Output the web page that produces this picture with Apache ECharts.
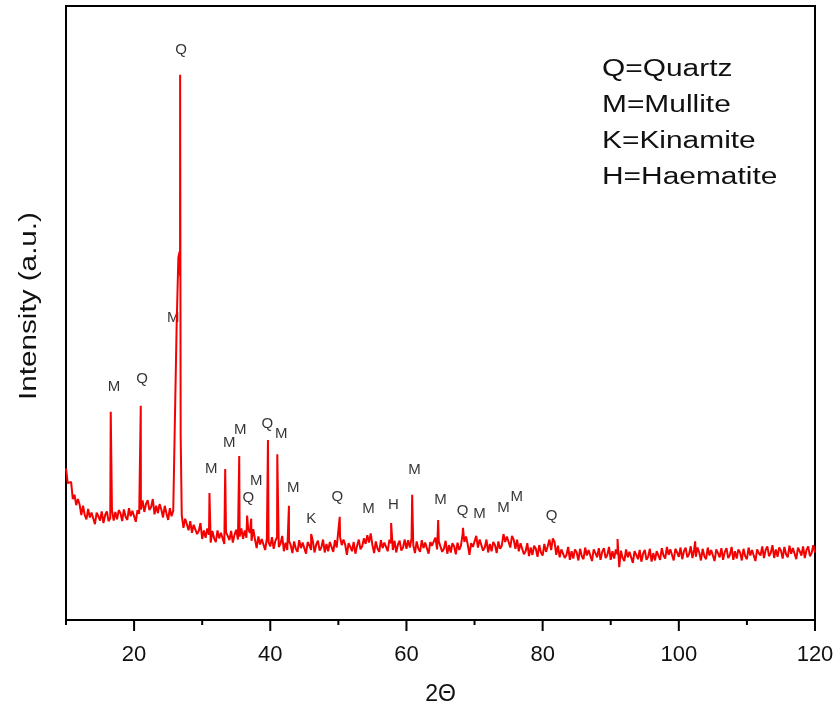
<!DOCTYPE html>
<html>
<head>
<meta charset="utf-8">
<script src="https://cdn.jsdelivr.net/npm/echarts@6/dist/echarts.min.js"></script>
<style>
  html, body { margin: 0; padding: 0; background: #fff; }
  #chart { width: 840px; height: 719px; }
</style>
</head>
<body>
<div id="chart"></div>
<script>
// XRD scan: intensity sampled every 0.25° of 2θ from 10° to 120° (a.u.)
const scanStart = 10;
const scanStep = 0.25;
const intensity = [
  247, 223, 220, 225,  197, 204, 187, 197,  188, 171, 186, 171,  164, 181, 167, 175,   // 10-13
  173, 156, 175, 169,  162, 177, 158, 171,  177, 161, 166, 179,  162, 176, 164, 179,   // 14-17
  174, 161, 180, 168,  163, 182, 169, 178,  177, 160, 179, 173,  180, 195, 176, 189,   // 18-21
  195, 179, 184, 197,  172, 186, 174, 189,  180, 167, 186, 174,  163, 182, 169, 178,   // 22-25
  330, 480, 590, 560,  171, 150, 165, 156,  146, 161, 142, 155,  156, 140, 145, 158,   // 26-29
  132, 146, 134, 149,  139, 126, 145, 133,  127, 146, 133, 142,  141, 124, 143, 137,   // 30-33
  130, 145, 126, 139,  147, 131, 136, 149,  132, 146, 134, 149,  142, 129, 148, 132,   // 34-37
  117, 136, 123, 132,  131, 114, 133, 127,  120, 135, 116, 129,  135, 119, 124, 137,   // 38-41
  112, 126, 114, 129,  122, 109, 128, 116,  111, 130, 117, 126,  125, 108, 127, 121,   // 42-45
  114, 129, 110, 123,  129, 113, 118, 131,  110, 124, 112, 127,  124, 111, 130, 118,   // 46-49
  116, 135, 122, 131,  123, 106, 125, 119,  112, 127, 108, 121,  131, 115, 120, 133,   // 50-53
  124, 138, 126, 141,  122, 109, 128, 116,  111, 130, 117, 126,  129, 112, 131, 125,   // 54-57
  114, 129, 110, 123,  129, 113, 118, 131,  116, 130, 118, 133,  122, 109, 128, 116,   // 58-61
  111, 130, 117, 126,  125, 108, 127, 121,  119, 134, 115, 128,  127, 111, 116, 129,   // 62-65
  108, 122, 110, 125,  120, 107, 126, 114,  121, 140, 127, 136,  123, 106, 125, 119,   // 66-69
  122, 137, 118, 131,  129, 113, 118, 131,  110, 124, 112, 127,  122, 109, 128, 116,   // 70-73
  121, 140, 127, 136,  135, 118, 137, 131,  116, 131, 112, 125,  123, 107, 112, 125,   // 74-77
  104, 118, 106, 121,  116, 103, 122, 110,  105, 124, 111, 120,  131, 114, 133, 127,   // 78-81
  106, 121, 102, 115,  117, 101, 106, 119,   98, 112, 100, 115,  110,  97, 116, 104,   // 82-85
   99, 118, 105, 114,  113,  96, 115, 109,  102, 117,  98, 111,  117, 101, 106, 119,   // 86-89
   98, 112, 100, 115,  107,  86, 113, 101,   96, 115, 102, 111,  110,  93, 112, 106,   // 90-93
   99, 114,  95, 108,  114,  98, 103, 116,   95, 109,  97, 112,  111,  98, 117, 105,   // 94-97
  100, 119, 106, 115,  114,  97, 116, 110,  103, 118,  99, 112,  118, 102, 107, 120,   // 98-101
  101, 115, 103, 118,  110,  97, 116, 104,   99, 118, 105, 114,  113,  96, 115, 109,   // 102-105
  102, 117,  98, 111,  117, 101, 106, 119,   98, 112, 100, 115,  110,  97, 116, 104,   // 106-109
   99, 118, 105, 114,  113,  96, 115, 109,  105, 120, 101, 114,  120, 104, 109, 122,   // 110-113
  101, 115, 103, 118,  113, 100, 119, 107,  102, 121, 108, 117,  116,  99, 118, 112,   // 114-117
  105, 120, 101, 114,  120, 104, 109, 122,  110                                         // 118-120
];

// Narrow reflections between the scan samples: position (2θ) and peak intensity
const peakAngle = [16.57, 20.98, 26.68, 26.76, 26.84, 31.07, 33.38, 35.44, 36.6, 37.2,
                   39.66, 41.03, 42.74, 46.0, 50.2, 57.75, 60.84, 64.66, 68.3, 91.0, 102.4];
const peakHeight = [339, 349, 600, 888, 300, 207, 246, 267, 170, 165,
                    293, 270, 186, 140, 168, 158, 204, 163, 150, 132, 128];

// Phase markers above the reflections
const phaseLetter = ['Q', 'M', 'M', 'Q', 'M', 'M', 'M', 'M', 'Q', 'Q', 'M', 'M',
                     'K', 'Q', 'M', 'H', 'M', 'M', 'Q', 'M', 'M', 'M', 'Q'];
const phaseAngle = [26.91, 25.74, 17.06, 21.18, 31.32, 33.97, 35.59, 37.94, 36.76, 39.56, 41.62, 43.38,
                    46.03, 49.85, 54.41, 58.09, 61.18, 65.0, 68.24, 70.74, 74.26, 76.18, 81.32];
const phaseLevel = [928, 492, 379, 393, 246, 288, 309, 226, 199, 319, 303, 215,
                    164, 200, 181, 187, 244, 195, 178, 173, 182, 200, 169];

const phaseKey = ['Q=Quartz', 'M=Mullite', 'K=Kinamite', 'H=Haematite'];

// 2θ axis: labelled ticks and the unlabelled ones between them
const xTicks = ['10', '20', '30', '40', '50', '60', '70', '80', '90', '100', '110', '120'];
const xMajorTicks = [20, 40, 60, 80, 100, 120];
const xMinorTicks = [10, 30, 50, 70, 90, 110];

const scanPoints = intensity.map((v, i) => [scanStart + i * scanStep, v]);
const peakPoints = peakAngle.map((a, i) => [a, peakHeight[i]]);
const pattern = scanPoints.concat(peakPoints).sort((a, b) => a[0] - b[0]);

const markers = phaseLetter.map((t, i) => ({ name: t, value: [phaseAngle[i], phaseLevel[i]] }));
const tickMarks = xMajorTicks.map(v => [v, 1]).concat(xMinorTicks.map(v => [v, 0]));

const FONT = '"Liberation Sans", Arial, sans-serif';
const everyOther = i => i % 2 === 1;
const axisStroke = { color: '#000', width: 2 };

const chart = echarts.init(document.getElementById('chart'), null, { renderer: 'canvas' });

const keyGraphics = phaseKey.map((t, i) => ({
  type: 'text',
  x: 602,
  y: 70 + i * 36,
  scaleX: 1.3,
  style: { text: t, font: '23px ' + FONT, fill: '#111', align: 'left', verticalAlign: 'middle' },
  silent: true
}));

chart.setOption({
  animation: false,
  backgroundColor: '#fff',
  grid: {
    left: 66, right: 25, top: 6, bottom: 99, containLabel: false,
    show: true, borderColor: '#000', borderWidth: 2, backgroundColor: 'transparent'
  },
  xAxis: [
    {
      type: 'value', min: 10, max: 120, position: 'bottom',
      axisLine: { show: true, onZero: false, lineStyle: axisStroke },
      axisTick: { show: false },
      axisLabel: { show: false },
      splitLine: { show: false },
      name: '2Θ', nameLocation: 'middle', nameGap: 63,
      nameTextStyle: { fontSize: 23, fontFamily: FONT, color: '#111' }
    },
    {
      // labels every 20°
      type: 'category', data: xTicks, boundaryGap: false, position: 'bottom',
      axisLine: { show: false, onZero: false },
      axisTick: { show: false },
      axisLabel: { show: true, interval: everyOther, margin: 24, fontSize: 22, fontFamily: FONT, color: '#111' },
      splitLine: { show: false }
    }
  ],
  yAxis: [
    {
      type: 'value', min: 0, max: 1000, position: 'left',
      axisLine: { show: true, onZero: false, lineStyle: axisStroke },
      axisTick: { show: false }, axisLabel: { show: false }, splitLine: { show: false }
    }
  ],
  series: [
    {
      type: 'line',
      data: pattern,
      xAxisIndex: 0, yAxisIndex: 0,
      showSymbol: false,
      sampling: null,
      lineStyle: { color: '#f50000', width: 2 },
      silent: true
    },
    {
      type: 'scatter',
      data: markers,
      xAxisIndex: 0, yAxisIndex: 0,
      symbolSize: 1,
      itemStyle: { color: 'rgba(0,0,0,0)' },
      label: {
        show: true, position: 'inside', formatter: p => p.name,
        fontSize: 15, fontFamily: FONT, color: '#000'
      },
      silent: true
    },
    {
      // outward tick marks on the 2θ axis: long where labelled, short between
      type: 'custom',
      data: tickMarks,
      xAxisIndex: 0, yAxisIndex: 0,
      clip: false,
      silent: true,
      renderItem: (params, api) => {
        const p = api.coord([api.value(0), 0]);
        const len = api.value(1) === 1 ? 11 : 5;
        return {
          type: 'line',
          shape: { x1: p[0], y1: p[1], x2: p[0], y2: p[1] + len },
          style: { stroke: '#000', lineWidth: 2 }
        };
      }
    }
  ],
  graphic: [
    {
      type: 'text',
      x: 30, y: 306,
      rotation: Math.PI / 2,
      scaleX: 1.29,
      style: { text: 'Intensity (a.u.)', font: '23px ' + FONT, fill: '#111', align: 'center', verticalAlign: 'middle' },
      silent: true
    }
  ].concat(keyGraphics)
});
</script>
</body>
</html>
